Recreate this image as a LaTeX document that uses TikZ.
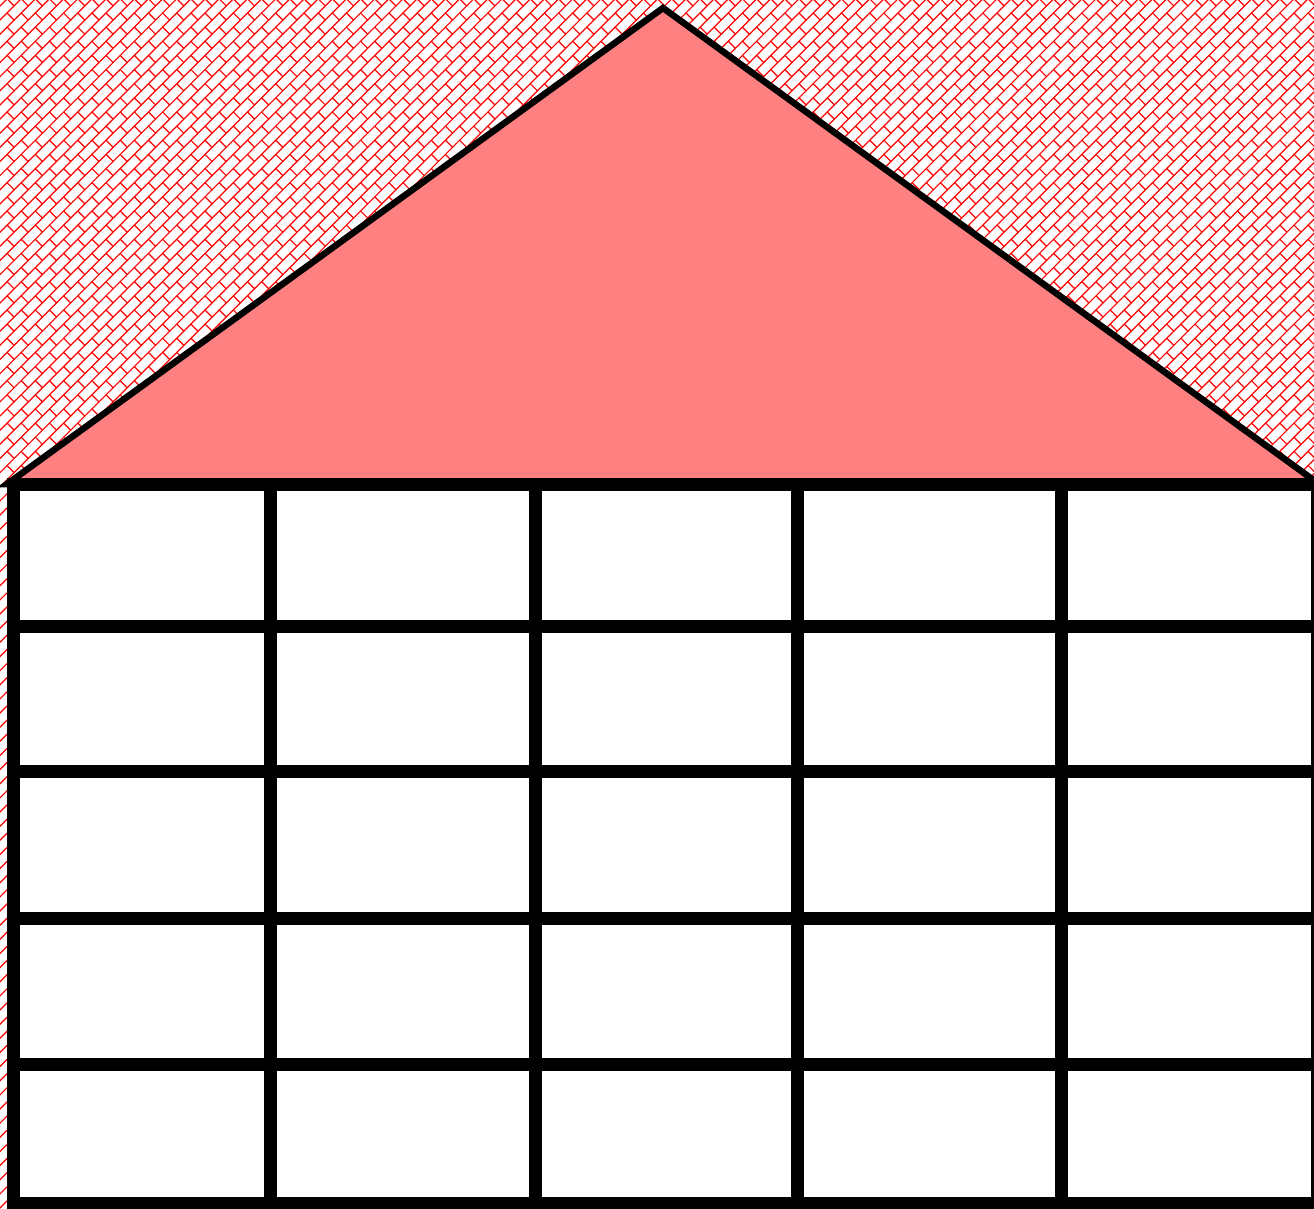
\documentclass[tikz,border=0pt]{standalone}
\usetikzlibrary{patterns.meta}
\tikzdeclarepattern{
  name=diagbricks,
  type=uncolored,
  bounding box={(-1pt,-1pt) and (21pt,21pt)},
  tile size={(20pt,20pt)},
  tile transformation={rotate=45},
  code={
    \draw[line width=1.2pt] (0pt,0pt) -- (20pt,0pt)
      (0pt,10pt) -- (20pt,10pt)
      (0pt,0pt) -- (0pt,10pt)
      (10pt,10pt) -- (10pt,20pt);
  }
}
\tikzset{
  bg/.style={pattern=diagbricks, pattern color=red},
  roof/.style={fill=red!50, draw=black, line width=6.5pt},
  gridline/.style={draw=black, line width=13pt},
}
\begin{document}
\begin{tikzpicture}[x=1pt,y=-1pt]
  \useasboundingbox (0,0) rectangle (1314,1208);
  \begin{scope}
    \clip (0,0) rectangle (1314,1208);
    \fill[bg] (-20,-20) rectangle (1334,1228);
    % roof
    \coordinate (L) at (7,484);
    \coordinate (A) at (663,8);
    \coordinate (R) at (1319,484);
    \draw[roof] (L) -- (A) -- (R) -- cycle;
    % building grid
    \fill[white] (13.5,484) rectangle (1317.5,1203.5);
    \foreach \x in {270.5,535,797,1061.5}
      \draw[gridline] (\x,484) -- (\x,1203.5);
    \foreach \y in {626.5,771,918,1064.5}
      \draw[gridline] (13.5,\y) -- (1317.5,\y);
    \draw[gridline] (13.5,484) rectangle (1317.5,1203.5);
  \end{scope}
\end{tikzpicture}
\end{document}
